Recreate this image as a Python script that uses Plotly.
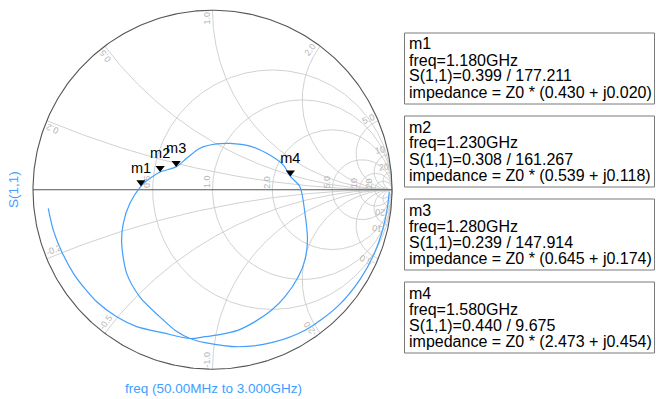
import numpy as np
import plotly.graph_objects as go

# ---------------- data ----------------
# S(1,1) reflection coefficient along the sweep (real, imag)
s11_re = [0.985, 0.974, 0.949, 0.905, 0.825, 0.697, 0.518, 0.335, 0.145, -0.042, -0.125,
          -0.203, -0.274, -0.404, -0.478, -0.506, -0.497, -0.460, -0.399, -0.348, -0.292,
          -0.203, -0.144, -0.070, 0.023, 0.097, 0.209, 0.302, 0.394, 0.434, 0.487, 0.515,
          0.529, 0.515, 0.478, 0.404, 0.330, 0.237, 0.144, 0.032, -0.042, -0.125, -0.274,
          -0.422, -0.534, -0.645, -0.720, -0.775, -0.840, -0.887, -0.915]
s11_im = [-0.009, -0.102, -0.219, -0.347, -0.495, -0.650, -0.782, -0.851, -0.875, -0.852, -0.829,
          -0.787, -0.726, -0.598, -0.466, -0.299, -0.187, -0.076, 0.019, 0.064, 0.099,
          0.127, 0.175, 0.231, 0.255, 0.258, 0.243, 0.203, 0.138, 0.074, 0.017, -0.131,
          -0.280, -0.392, -0.485, -0.596, -0.670, -0.735, -0.782, -0.809, -0.819, -0.829, -0.798,
          -0.763, -0.708, -0.624, -0.540, -0.466, -0.345, -0.225, -0.104]

marker_names = ["m1", "m2", "m3", "m4"]
marker_freq = ["1.180GHz", "1.230GHz", "1.280GHz", "1.580GHz"]
marker_mag = [0.399, 0.308, 0.239, 0.440]
marker_ang = [177.211, 161.267, 147.914, 9.675]
marker_z_re = [0.430, 0.539, 0.645, 2.473]
marker_z_im = [0.020, 0.118, 0.174, 0.454]

real_ticks = [0.5, 1.0, 2.0, 5.0, 10.0, 20.0]
real_tick_text = ["0.5", "1.0", "2.0", "5.0", "10", "20"]
imag_ticks = [0.2, 0.5, 1.0, 2.0, 5.0, 10.0, 20.0]
imag_tick_text = ["0.2", "0.5", "1.0", "2.0", "5.0", "10", "20"]

trace_name = "S(1,1)"
sweep_label = "freq (50.00MHz to 3.000GHz)"

# ---------------- styling / geometry ----------------
W, H = 656, 399
CX, CY, R = 212.5, 189.7, 179.5          # chart centre and radius in pixels
ML, MR, MT, MB = 15, 246, 1, 21
PW, PH = W - ML - MR, H - MT - MB
XR = [(ML - CX) / R, (ML + PW - CX) / R]
YR = [(CY - (MT + PH)) / R, (CY - MT) / R]
PXU = 1.0 / R                            # data units per pixel

BLUE = "rgb(66,158,255)"
GRID = "#cccccc"
EDGE = "#555555"
LABEL_GRAY = "#b4b4b4"
FONT = "Liberation Sans, Arial, sans-serif"


def px2paper(px, py):
    return (px - ML) / PW, 1 - (py - MT) / PH


CW = {".": 0.278, "-": 0.333}


def text_len(s, size):
    return sum(CW.get(c, 0.556) for c in s) * size


fig = go.Figure()

# ---- grid: constant resistance circles and constant reactance arcs ----
gx, gy = [], []
t = np.linspace(0, 2 * np.pi, 361)
for r in real_ticks:
    c, rad = r / (1 + r), 1 / (1 + r)
    gx += list(c + rad * np.cos(t)) + [None]
    gy += list(rad * np.sin(t)) + [None]
for xv in imag_ticks:
    px_, py_ = (xv * xv - 1) / (xv * xv + 1), 2 * xv / (xv * xv + 1)
    a0 = np.arctan2(py_ - 1 / xv, px_ - 1) % (2 * np.pi)
    a = np.linspace(a0, 1.5 * np.pi, 200)
    ax_ = 1 + np.cos(a) / xv
    ay_ = 1 / xv + np.sin(a) / xv
    for s in (1, -1):
        gx += list(ax_) + [None]
        gy += list(s * ay_) + [None]
fig.add_trace(go.Scatter(x=gx, y=gy, mode="lines", line=dict(color=GRID, width=0.9),
                         hoverinfo="skip"))

# outer circle and real axis
ox = list(np.cos(t)) + [None, -1, 1]
oy = list(np.sin(t)) + [None, 0, 0]
fig.add_trace(go.Scatter(x=ox, y=oy, mode="lines", line=dict(color=EDGE, width=1.1),
                         hoverinfo="skip"))

# ---- S(1,1) trace ----
fig.add_trace(go.Scatter(x=s11_re, y=s11_im, mode="lines", name=trace_name,
                         line=dict(color=BLUE, width=1.2, shape="spline", smoothing=0.8)))

# ---- markers ----
mx = [m * np.cos(np.radians(a)) for m, a in zip(marker_mag, marker_ang)]
my = [m * np.sin(np.radians(a)) for m, a in zip(marker_mag, marker_ang)]
TRI = 8
fig.add_trace(go.Scatter(x=mx, y=[v + (TRI / 2) * PXU for v in my], mode="markers+text",
                         text=marker_names, textposition="top center",
                         textfont=dict(family=FONT, size=14.5, color="black"),
                         marker=dict(symbol="triangle-down", size=TRI, color="black"),
                         hoverinfo="skip"))

annotations = []
shapes = []

# ---- grid labels ----
GL = 9
for r, lab in zip(real_ticks, real_tick_text):
    g = (r - 1) / (r + 1)
    L = text_len(lab, GL)
    annotations.append(dict(x=g - 5.5 * PXU, y=(1.5 + L / 2) * PXU, xref="x", yref="y",
                            text=lab, showarrow=False, textangle=-90,
                            font=dict(family=FONT, size=GL, color=LABEL_GRAY),
                            xanchor="center", yanchor="middle"))
for xv, lab in zip(imag_ticks, imag_tick_text):
    for s in (1, -1):
        x = s * xv
        txt = lab if s > 0 else "-" + lab
        phi = np.arctan2(2 * x / (x * x + 1), (x * x - 1) / (x * x + 1))
        uo = np.array([np.cos(phi), np.sin(phi)])
        u = uo if s > 0 else -uo
        v = np.array([-u[1], u[0]])
        L = text_len(txt, GL)
        p = uo - uo * (2 + L / 2) * PXU + v * 5.5 * PXU
        ang = -np.degrees(np.arctan2(u[1], u[0]))
        annotations.append(dict(x=p[0], y=p[1], xref="x", yref="y", text=txt,
                                showarrow=False, textangle=ang,
                                font=dict(family=FONT, size=GL, color=LABEL_GRAY),
                                xanchor="center", yanchor="middle"))

# ---- axis captions ----
xp, yp = px2paper(13.5, 189.5)
annotations.append(dict(x=xp, y=yp, xref="paper", yref="paper", text=trace_name,
                        showarrow=False, textangle=-90, xanchor="center", yanchor="middle",
                        font=dict(family=FONT, size=13.5, color=BLUE)))
xp, yp = px2paper(213, 388)
annotations.append(dict(x=xp, y=yp, xref="paper", yref="paper", text=sweep_label,
                        showarrow=False, xanchor="center", yanchor="middle",
                        font=dict(family=FONT, size=13.5, color=BLUE)))

# ---- marker readout boxes ----
BOX_L, BOX_R, BOX_H = 404.5, 654.5, 71
box_tops = [33, 116, 199, 282]
line_off = [11, 27, 43, 59.5]
for i, name in enumerate(marker_names):
    top = box_tops[i]
    x0, y0 = px2paper(BOX_L, top + BOX_H)
    x1, y1 = px2paper(BOX_R, top)
    shapes.append(dict(type="rect", xref="paper", yref="paper", x0=x0, y0=y0, x1=x1, y1=y1,
                       line=dict(color="#7a7a7a", width=1), fillcolor="white", layer="below"))
    lines = [name,
             f"freq={marker_freq[i]}",
             f"S(1,1)={marker_mag[i]:.3f} / {marker_ang[i]:.3f}",
             f"impedance = Z0 * ({marker_z_re[i]:.3f} + j{marker_z_im[i]:.3f})"]
    for off, txt in zip(line_off, lines):
        xp, yp = px2paper(406.5, top + off)
        annotations.append(dict(x=xp, y=yp, xref="paper", yref="paper", text=txt,
                                showarrow=False, xanchor="left", yanchor="middle",
                                font=dict(family=FONT, size=16, color="black")))

fig.update_layout(
    width=W, height=H,
    margin=dict(l=ML, r=MR, t=MT, b=MB, pad=0),
    paper_bgcolor="white", plot_bgcolor="white",
    showlegend=False,
    xaxis=dict(range=XR, visible=False, fixedrange=True),
    yaxis=dict(range=YR, visible=False, fixedrange=True),
    annotations=annotations, shapes=shapes,
    font=dict(family=FONT),
)

fig.write_html("out.html", config={"displayModeBar": False},
               post_script="document.body.style.margin='0';")
